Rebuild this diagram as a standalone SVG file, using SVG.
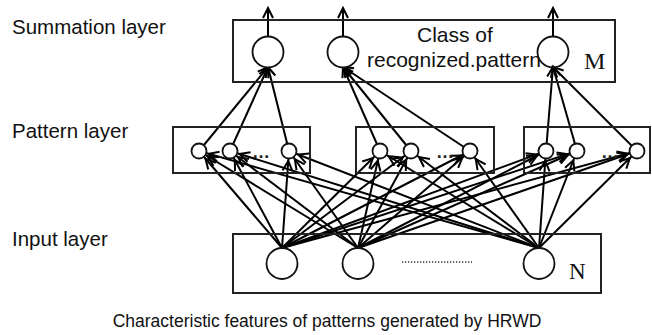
<svg xmlns="http://www.w3.org/2000/svg" width="652" height="335" viewBox="0 0 652 335">
<style>
.lbl{font-family:"Liberation Sans",Arial,sans-serif;font-size:20.5px;fill:#111}
.box{fill:none;stroke:#222;stroke-width:2}
.nd{fill:#fff;stroke:#111;stroke-width:1.8}
.c{stroke:#000;stroke-width:2;fill:none}
.ci{stroke:#000;stroke-width:2;fill:none;marker-end:url(#ahp)}
.cs{stroke:#000;stroke-width:2;fill:none;marker-end:url(#ah)}
.ser{font-family:"Liberation Serif","Times New Roman",serif;fill:#111}
.dots{font-family:"Liberation Sans",Arial,sans-serif;font-size:18px;font-weight:bold;fill:#222}
</style>
<defs>
<marker id="ah" markerUnits="userSpaceOnUse" markerWidth="14" markerHeight="12" refX="11" refY="6" orient="auto" overflow="visible"><path d="M1,1 L11,6 L1,11" fill="none" stroke="#000" stroke-width="2"/></marker>
<marker id="ahp" markerUnits="userSpaceOnUse" markerWidth="14" markerHeight="12" refX="21" refY="6" orient="auto" overflow="visible"><path d="M1,1 L11,6 L1,11" fill="none" stroke="#000" stroke-width="2"/></marker>
</defs>
<rect width="652" height="335" fill="#fff"/>
<g id="labels">
<text class="lbl" x="12" y="34">Summation layer</text>
<text class="lbl" x="12" y="138">Pattern layer</text>
<text class="lbl" x="12" y="246">Input layer</text>
<text class="lbl" x="327" y="327" text-anchor="middle" style="font-size:17.5px">Characteristic features of patterns generated by HRWD</text>
</g>
<g id="connectors">
<line class="ci" x1="282" y1="248" x2="199" y2="151"/>
<line class="ci" x1="282" y1="248" x2="230" y2="151"/>
<line class="ci" x1="282" y1="248" x2="289" y2="151"/>
<line class="ci" x1="282" y1="248" x2="380" y2="151"/>
<line class="ci" x1="282" y1="248" x2="411" y2="151"/>
<line class="ci" x1="282" y1="248" x2="470" y2="151"/>
<line class="ci" x1="282" y1="248" x2="546" y2="151"/>
<line class="ci" x1="282" y1="248" x2="577" y2="151"/>
<line class="ci" x1="282" y1="248" x2="637" y2="151"/>
<line class="ci" x1="358" y1="248" x2="199" y2="151"/>
<line class="ci" x1="358" y1="248" x2="230" y2="151"/>
<line class="ci" x1="358" y1="248" x2="289" y2="151"/>
<line class="ci" x1="358" y1="248" x2="380" y2="151"/>
<line class="ci" x1="358" y1="248" x2="411" y2="151"/>
<line class="ci" x1="358" y1="248" x2="470" y2="151"/>
<line class="ci" x1="358" y1="248" x2="546" y2="151"/>
<line class="ci" x1="358" y1="248" x2="577" y2="151"/>
<line class="ci" x1="358" y1="248" x2="637" y2="151"/>
<line class="ci" x1="539" y1="248" x2="199" y2="151"/>
<line class="ci" x1="539" y1="248" x2="230" y2="151"/>
<line class="ci" x1="539" y1="248" x2="289" y2="151"/>
<line class="ci" x1="539" y1="248" x2="380" y2="151"/>
<line class="ci" x1="539" y1="248" x2="411" y2="151"/>
<line class="ci" x1="539" y1="248" x2="470" y2="151"/>
<line class="ci" x1="539" y1="248" x2="546" y2="151"/>
<line class="ci" x1="539" y1="248" x2="577" y2="151"/>
<line class="ci" x1="539" y1="248" x2="637" y2="151"/>
<line class="cs" x1="199" y1="151" x2="268" y2="67"/>
<line class="cs" x1="230" y1="151" x2="268" y2="67"/>
<line class="cs" x1="289" y1="151" x2="268" y2="67"/>
<line class="cs" x1="380" y1="151" x2="343" y2="67"/>
<line class="cs" x1="411" y1="151" x2="343" y2="67"/>
<line class="cs" x1="470" y1="151" x2="343" y2="67"/>
<line class="cs" x1="546" y1="151" x2="553" y2="67"/>
<line class="cs" x1="577" y1="151" x2="553" y2="67"/>
<line class="cs" x1="637" y1="151" x2="553" y2="67"/>
<line class="cs" x1="268" y1="37" x2="268" y2="8"/>
<line class="cs" x1="343" y1="37" x2="343" y2="8"/>
<line class="cs" x1="553" y1="37" x2="553" y2="8"/>
</g>
<g id="summation-box">
<rect class="box" x="233" y="20" width="382" height="62"/>
<text class="lbl" x="417" y="42" style="font-size:21px">Class of</text>
<text class="lbl" x="367" y="67" style="font-size:21px">recognized.pattern</text>
<text class="ser" x="584" y="69" style="font-size:24px">M</text>
</g>
<g id="s1"><circle class="nd" cx="268" cy="52" r="15.5"/></g>
<g id="s2"><circle class="nd" cx="343" cy="52" r="15.5"/></g>
<g id="s3"><circle class="nd" cx="553" cy="52" r="15.5" fill-opacity="0"/></g>
<g id="pattern-box-1">
<rect class="box" x="173" y="127" width="137" height="46"/>
<text class="dots" x="252" y="158">…</text>
</g>
<g id="pattern-box-2">
<rect class="box" x="356" y="127" width="138" height="46"/>
<text class="dots" x="436" y="158">…</text>
</g>
<g id="pattern-box-3">
<rect class="box" x="524" y="127" width="126" height="46"/>
<text class="dots" x="601" y="158">…</text>
</g>
<g id="p1"><circle class="nd" cx="199" cy="151" r="7.5"/></g>
<g id="p2"><circle class="nd" cx="230" cy="151" r="7.5"/></g>
<g id="p3"><circle class="nd" cx="289" cy="151" r="7.5"/></g>
<g id="p4"><circle class="nd" cx="380" cy="151" r="7.5"/></g>
<g id="p5"><circle class="nd" cx="411" cy="151" r="7.5"/></g>
<g id="p6"><circle class="nd" cx="470" cy="151" r="7.5"/></g>
<g id="p7"><circle class="nd" cx="546" cy="151" r="7.5"/></g>
<g id="p8"><circle class="nd" cx="577" cy="151" r="7.5"/></g>
<g id="p9"><circle class="nd" cx="637" cy="151" r="7.5"/></g>
<g id="input-box">
<rect class="box" x="233" y="234" width="368" height="59"/>
<line x1="402" y1="262" x2="472" y2="262" stroke="#333" stroke-width="1.3" stroke-dasharray="1.3 1.7"/>
<text class="ser" x="569" y="279" style="font-size:23px">N</text>
</g>
<g id="i1"><circle class="nd" cx="282" cy="263.5" r="15.5"/></g>
<g id="i2"><circle class="nd" cx="358" cy="263.5" r="15.5"/></g>
<g id="i3"><circle class="nd" cx="539" cy="263.5" r="15.5"/></g>
</svg>
